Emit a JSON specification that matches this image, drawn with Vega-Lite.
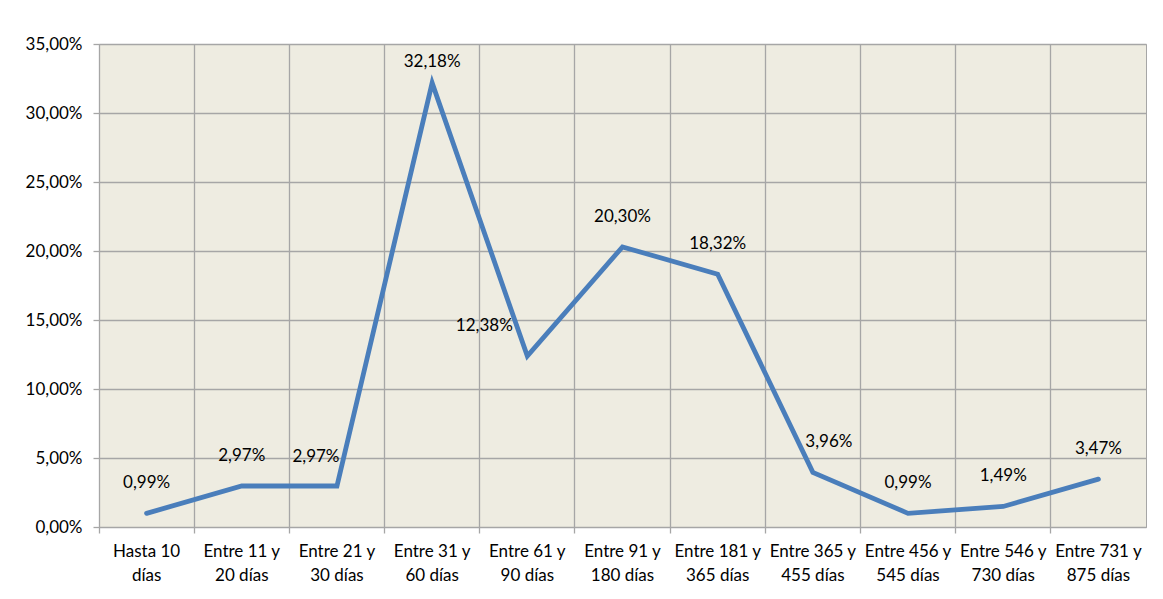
{
  "$schema": "https://vega.github.io/schema/vega-lite/v6.json",
  "width": 1047,
  "height": 483,
  "autosize": {"type": "none"},
  "padding": {"left": 99, "top": 44, "right": 17, "bottom": 72},
  "background": "white",
  "config": {
    "locale": {"number": {"decimal": ",", "thousands": ".", "grouping": [3], "currency": ["", " €"]}},
    "view": {"fill": "#EEECE1", "stroke": "#A6A6A6", "strokeWidth": 1},
    "font": "Lato",
    "axis": {"gridColor": "#A6A6A6", "gridOpacity": 1, "gridWidth": 1.3, "domainColor": "#A6A6A6", "tickColor": "#A6A6A6", "tickSize": 6, "tickWidth": 1.3, "labelColor": "#000000", "labelFont": "Lato", "labelFontSize": 17, "title": null}
  },
  "data": {
    "values": [
      {"cat": "Hasta 10 días", "v": 0.0099},
      {"cat": "Entre 11 y 20 días", "v": 0.0297},
      {"cat": "Entre 21 y 30 días", "v": 0.0297},
      {"cat": "Entre 31 y 60 días", "v": 0.3218},
      {"cat": "Entre 61 y 90 días", "v": 0.1238},
      {"cat": "Entre 91 y 180 días", "v": 0.2030},
      {"cat": "Entre 181 y 365 días", "v": 0.1832},
      {"cat": "Entre 365 y 455 días", "v": 0.0396},
      {"cat": "Entre 456 y 545 días", "v": 0.0099},
      {"cat": "Entre 546 y 730 días", "v": 0.0149},
      {"cat": "Entre 731 y 875 días", "v": 0.0347}
    ]
  },
  "resolve": {"axis": {"x": "independent"}},
  "layer": [
    {
      "mark": {"type": "line", "color": "#4A7EBB", "strokeWidth": 4.8, "strokeJoin": "miter", "strokeCap": "round"},
      "encoding": {
        "x": {
          "field": "cat", "type": "nominal", "sort": null, "bandPosition": 0.5,
          "scale": {"type": "band", "paddingInner": 0, "paddingOuter": 0},
          "axis": {"orient": "bottom", "bandPosition": 0, "grid": true, "labels": false, "ticks": true, "domain": true}
        },
        "y": {
          "field": "v", "type": "quantitative",
          "scale": {"domain": [0, 0.35], "nice": false},
          "axis": {"values": [0, 0.05, 0.1, 0.15, 0.2, 0.25, 0.3, 0.35], "format": ".2%", "labelPadding": 11}
        }
      }
    },
    {
      "mark": {"type": "text", "dy": -30, "fontSize": 17, "font": "Lato", "color": "#000000"},
      "encoding": {
        "x": {
          "field": "cat", "type": "nominal", "sort": null, "bandPosition": 0.5,
          "axis": {
            "orient": "bottom", "bandPosition": 0.5, "grid": false, "ticks": false, "domain": false,
            "labelAngle": 0, "labelPadding": 16, "labelBaseline": "top", "labelLineHeight": 24,
            "labelExpr": "indexof(datum.value, ' y ') > 0 ? [slice(datum.value, 0, indexof(datum.value, ' y ') + 2), slice(datum.value, indexof(datum.value, ' y ') + 3)] : ['Hasta 10', 'días']"
          }
        },
        "y": {"field": "v", "type": "quantitative"},
        "text": {"field": "v", "format": ".2%"},
        "opacity": {"condition": {"test": "indexof(['Entre 21 y 30 días', 'Entre 61 y 90 días', 'Entre 365 y 455 días', 'Entre 31 y 60 días'], datum.cat) < 0", "value": 1}, "value": 0}
      }
    },
    {
      "transform": [{"filter": "datum.cat == 'Entre 31 y 60 días'"}],
      "mark": {"type": "text", "dy": -21, "fontSize": 17, "font": "Lato", "color": "#000000"},
      "encoding": {"x": {"field": "cat", "type": "nominal", "sort": null, "bandPosition": 0.5, "axis": null}, "y": {"field": "v", "type": "quantitative"}, "text": {"field": "v", "format": ".2%"}}
    },
    {
      "transform": [{"filter": "datum.cat == 'Entre 21 y 30 días'"}],
      "mark": {"type": "text", "dx": -21, "dy": -29, "fontSize": 17, "font": "Lato", "color": "#000000"},
      "encoding": {"x": {"field": "cat", "type": "nominal", "sort": null, "bandPosition": 0.5, "axis": null}, "y": {"field": "v", "type": "quantitative"}, "text": {"field": "v", "format": ".2%"}}
    },
    {
      "transform": [{"filter": "datum.cat == 'Entre 61 y 90 días'"}],
      "mark": {"type": "text", "dx": -43, "dy": -30, "fontSize": 17, "font": "Lato", "color": "#000000"},
      "encoding": {"x": {"field": "cat", "type": "nominal", "sort": null, "bandPosition": 0.5, "axis": null}, "y": {"field": "v", "type": "quantitative"}, "text": {"field": "v", "format": ".2%"}}
    },
    {
      "transform": [{"filter": "datum.cat == 'Entre 365 y 455 días'"}],
      "mark": {"type": "text", "dx": 16, "dy": -30, "fontSize": 17, "font": "Lato", "color": "#000000"},
      "encoding": {"x": {"field": "cat", "type": "nominal", "sort": null, "bandPosition": 0.5, "axis": null}, "y": {"field": "v", "type": "quantitative"}, "text": {"field": "v", "format": ".2%"}}
    }
  ]
}
